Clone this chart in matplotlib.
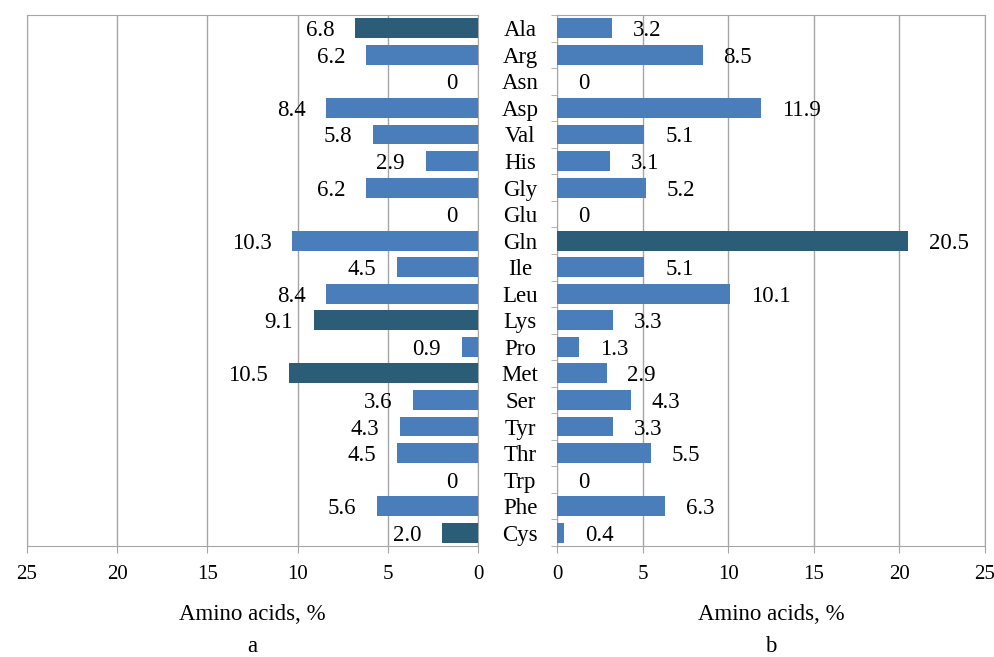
import numpy as np
import matplotlib.pyplot as plt
from matplotlib.ticker import MultipleLocator, FixedLocator

plt.rcParams['font.family'] = ['Liberation Serif', 'DejaVu Serif']
plt.rcParams['font.size'] = 16.5

# data
amino = ['Ala', 'Arg', 'Asn', 'Asp', 'Val', 'His', 'Gly', 'Glu', 'Gln', 'Ile',
         'Leu', 'Lys', 'Pro', 'Met', 'Ser', 'Tyr', 'Thr', 'Trp', 'Phe', 'Cys']
vals_a = [6.8, 6.2, 0, 8.4, 5.8, 2.9, 6.2, 0, 10.3, 4.5,
          8.4, 9.1, 0.9, 10.5, 3.6, 4.3, 4.5, 0, 5.6, 2.0]
vals_b = [3.2, 8.5, 0, 11.9, 5.1, 3.1, 5.2, 0, 20.5, 5.1,
          10.1, 3.3, 1.3, 2.9, 4.3, 3.3, 5.5, 0, 6.3, 0.4]
labels_a = ['6.8', '6.2', '0', '8.4', '5.8', '2.9', '6.2', '0', '10.3', '4.5',
            '8.4', '9.1', '0.9', '10.5', '3.6', '4.3', '4.5', '0', '5.6', '2.0']
labels_b = ['3.2', '8.5', '0', '11.9', '5.1', '3.1', '5.2', '0', '20.5', '5.1',
            '10.1', '3.3', '1.3', '2.9', '4.3', '3.3', '5.5', '0', '6.3', '0.4']
dark_a = ['Ala', 'Lys', 'Met', 'Cys']
dark_b = ['Gln']

BLUE = '#4A7EBB'
DARK = '#2C5D78'
GRID = '#A6A6A6'

W, H = 995, 657
fig = plt.figure(figsize=(W / 100, H / 100), dpi=100)
ax_a = fig.add_axes([27 / W, 1 - 546 / H, (478 - 27) / W, (546 - 15) / H])
ax_b = fig.add_axes([557 / W, 1 - 546 / H, (985 - 557) / W, (546 - 15) / H])

y = np.arange(len(amino))


def panel(ax, vals, labels, dark, side, letter):
    colors = [DARK if a in dark else BLUE for a in amino]
    ax.barh(y, vals, height=0.75, color=colors, zorder=3)
    sign = -1 if side == 'left' else 1
    for i, (v, t) in enumerate(zip(vals, labels)):
        ax.annotate(t, (v, i), xytext=(sign * 15, 0), textcoords='offset points',
                    ha='right' if side == 'left' else 'left', va='center_baseline')
    ax.set_ylim(len(amino) - 0.5, -0.5)
    if side == 'left':
        ax.set_xlim(25, 0)
    else:
        ax.set_xlim(0, 25)
    ax.xaxis.set_major_locator(MultipleLocator(5))
    ax.grid(axis='x', color=GRID, linewidth=1, zorder=0)
    for s in ax.spines.values():
        s.set_color(GRID)
    ax.tick_params(axis='x', length=5, color=GRID, pad=9, labelsize=15)
    ax.set_xlabel('Amino acids, %', labelpad=14)
    ax.annotate(letter, (0.5, 0), xycoords='axes fraction', xytext=(0, -65),
                textcoords='offset points', ha='center', va='top')


panel(ax_a, vals_a, labels_a, dark_a, 'left', 'a')
panel(ax_b, vals_b, labels_b, dark_b, 'right', 'b')

ax_a.set_yticks([])
ax_b.set_yticks(y)
ax_b.set_yticklabels(amino, ha='center', va='center_baseline')
ax_b.yaxis.set_minor_locator(FixedLocator(np.arange(-0.5, len(amino), 1)))
ax_b.tick_params(axis='y', which='major', length=0, pad=26.5)
ax_b.tick_params(axis='y', which='minor', length=4, color=GRID)

fig.savefig('out.png', dpi=100)
